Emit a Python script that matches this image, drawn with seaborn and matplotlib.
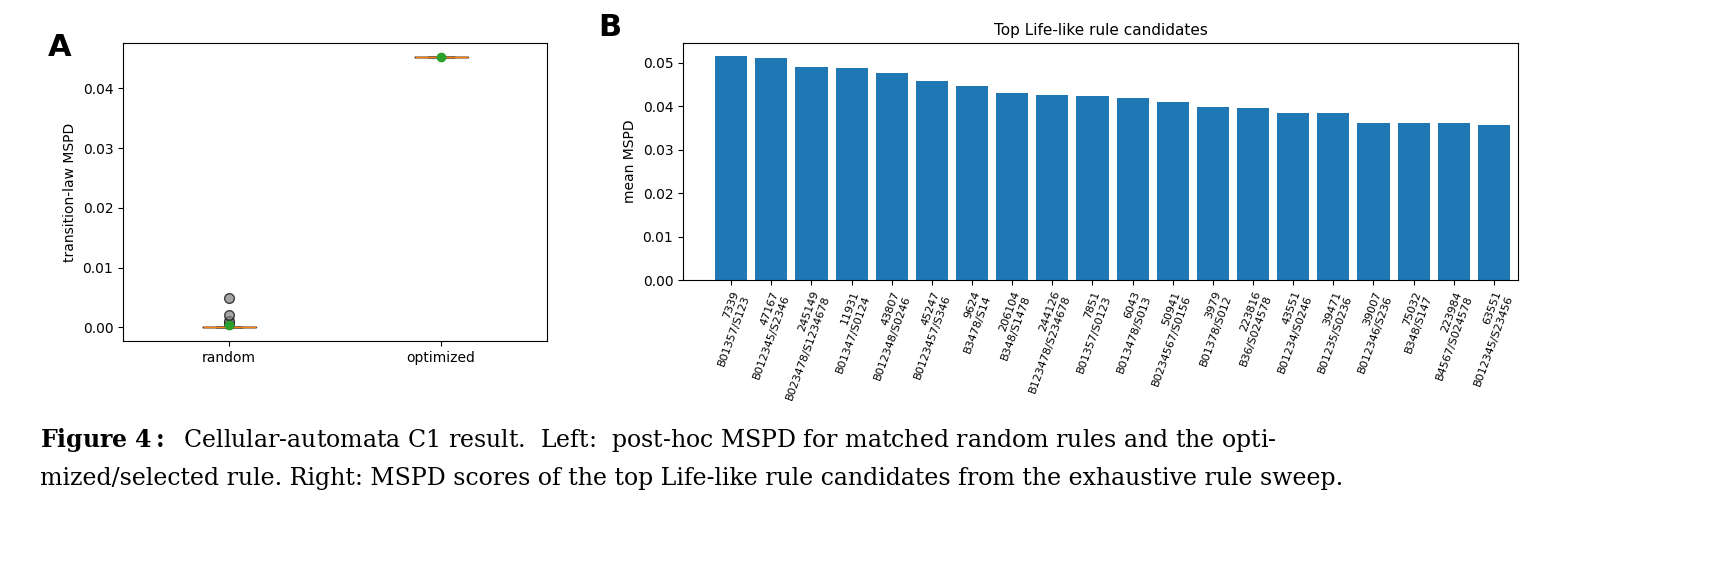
import numpy as np
import pandas as pd
import seaborn as sns
import matplotlib.pyplot as plt

# panel A data
random_mspd = [0.0] * 16 + [0.0005, 0.001, 0.002, 0.005]
optimized_mspd = [0.0453]

# panel B data
rule_ids = ["7339", "47167", "245149", "11931", "43807", "45247", "9624", "206104", "244126", "7851",
            "6043", "50941", "3979", "223816", "43551", "39471", "39007", "75032", "223984", "63551"]
rule_names = ["B01357/S123", "B012345/S2346", "B023478/S1234678", "B01347/S0124", "B012348/S0246",
              "B0123457/S346", "B3478/S14", "B348/S1478", "B123478/S234678", "B01357/S0123",
              "B013478/S013", "B0234567/S0156", "B01378/S012", "B36/S024578", "B01234/S0246",
              "B01235/S0236", "B012346/S236", "B348/S147", "B4567/S024578", "B012345/S23456"]
mean_mspd = [0.0515, 0.0510, 0.0490, 0.0487, 0.0475, 0.0457, 0.0446, 0.0429, 0.0425, 0.0423,
             0.0419, 0.0410, 0.0398, 0.0396, 0.0384, 0.0383, 0.0362, 0.0360, 0.0360, 0.0356]

plt.rcParams['font.family'] = ['DejaVu Sans']
plt.rcParams['mathtext.fontset'] = 'dejavuserif'

fig = plt.figure(figsize=(17.16, 5.62), dpi=100)
W, H = 1716, 562
axA = fig.add_axes([123 / W, 1 - 341 / H, (547 - 123) / W, (341 - 43) / H])
axB = fig.add_axes([683 / W, 1 - 280 / H, (1518 - 683) / W, (280 - 43) / H])

dfA = pd.DataFrame({"group": ["random"] * len(random_mspd) + ["optimized"] * len(optimized_mspd),
                    "mspd": random_mspd + optimized_mspd})
sns.boxplot(data=dfA, x="group", y="mspd", ax=axA, fill=False, color="black", linewidth=1,
            showmeans=True, width=0.25,
            medianprops=dict(color="#ff7f0e"),
            meanprops=dict(marker="o", markerfacecolor="#2ca02c", markeredgecolor="#2ca02c", markersize=6),
            flierprops=dict(marker="o", markerfacecolor="gray", markeredgecolor="black", markersize=7, alpha=0.7))
axA.set_xlabel("")
axA.set_ylabel("transition-law MSPD", fontsize=10)
axA.set_xlim(-0.5, 1.5)
axA.tick_params(labelsize=10)

labels = [f"{i}\n{n}" for i, n in zip(rule_ids, rule_names)]
dfB = pd.DataFrame({"rule": labels, "mspd": mean_mspd})
sns.barplot(data=dfB, x="rule", y="mspd", ax=axB, color="#1f77b4", saturation=1, width=0.8)
axB.set_xlabel("")
axB.set_ylabel("mean MSPD", fontsize=10)
axB.set_title("Top Life-like rule candidates", fontsize=11)
axB.set_xlim(-1.2, 19.6)
axB.set_ylim(0, 0.0545)
axB.tick_params(axis="y", labelsize=10)
plt.setp(axB.get_xticklabels(), rotation=70, ha="right", rotation_mode="anchor", fontsize=8)

fig.text(48 / W, 1 - 47 / H, "A", fontsize=22, fontweight="bold", va="center")
fig.text(598 / W, 1 - 27 / H, "B", fontsize=22, fontweight="bold", va="center")

fig.text(40 / W, 1 - 440 / H, r"$\mathbf{Figure\ 4{:}}$  Cellular-automata C1 result.  Left:  post-hoc MSPD for matched random rules and the opti-",
         fontsize=17, family="DejaVu Serif", va="center")
fig.text(40 / W, 1 - 478 / H, "mized/selected rule. Right: MSPD scores of the top Life-like rule candidates from the exhaustive rule sweep.",
         fontsize=17, family="DejaVu Serif", va="center")

fig.savefig("out.png", dpi=100)
